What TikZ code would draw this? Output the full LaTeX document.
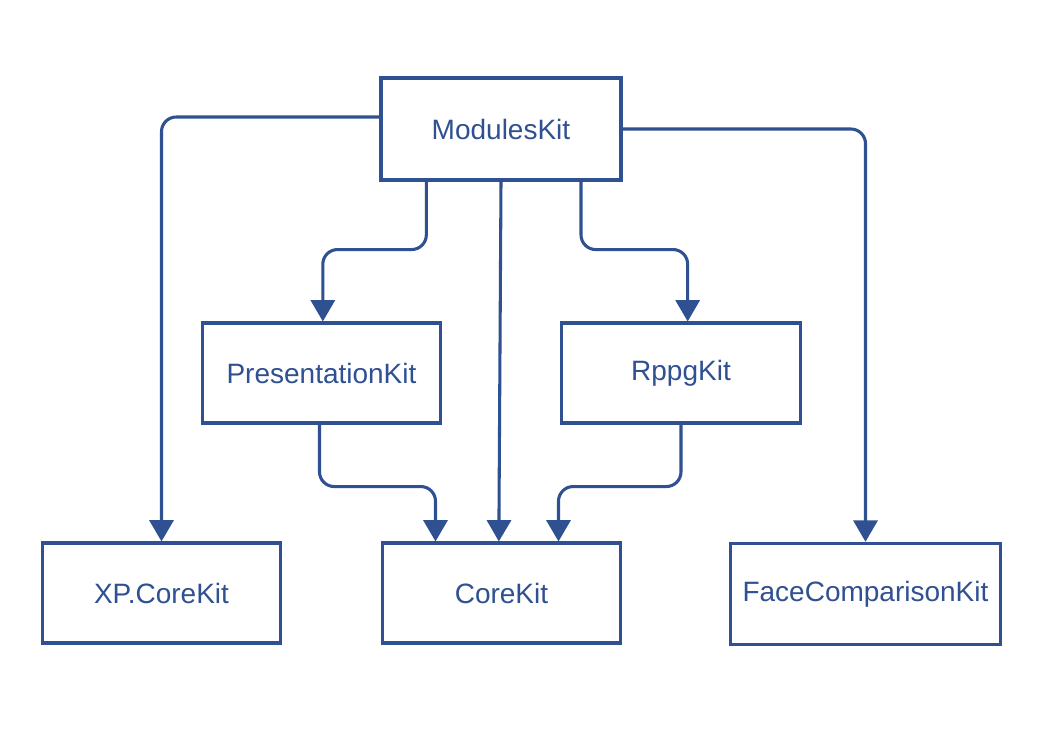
\documentclass[tikz,border=0pt]{standalone}
\usepackage{fontspec}
\setmainfont{Liberation Sans}
\usetikzlibrary{arrows.meta}
\definecolor{ink}{RGB}{47,80,145}
\newcommand{\lab}[1]{\lower2.5pt\hbox{#1}}
\begin{document}
\begin{tikzpicture}[x=0.75pt,y=-0.75pt,
  box/.style={draw=ink, line width=2.3pt, inner sep=0pt, text=ink,
    minimum width=179pt, minimum height=75pt,
    font=\fontsize{21}{24}\selectfont},
  link/.style={draw=ink, line width=2.3pt, rounded corners=11pt,
    -{Triangle[width=18pt,length=16pt]}}]
\useasboundingbox[fill=white] (0,0) rectangle (1040,740);
\node[box, minimum width=180pt, minimum height=76.5pt] (mk) at (501,129) {\lab{ModulesKit}};
\node[box] (pk) at (321.5,373) {\lab{PresentationKit}};
\node[box] (rk) at (681,373) {\lab{RppgKit}};
\node[box] (xp) at (161.5,593) {\lab{XP.CoreKit}};
\node[box, minimum width=178pt] (ck) at (501.5,593) {\lab{CoreKit}};
\node[box, minimum width=203pt, minimum height=76pt] (fc) at (865.5,594) {\lab{FaceComparisonKit}};
\draw[link] ([yshift=9pt]mk.west) -| (xp.north);
\draw[link] (mk.east) -| (fc.north);
\draw[link] ([xshift=-56pt]mk.south) -- ++(0,68) -| ([xshift=1pt]pk.north);
\draw[link] ([xshift=60pt]mk.south) -- ++(0,68) -| ([xshift=5pt]rk.north);
\draw[link] (mk.south) -- ([xshift=-2pt]ck.north);
\draw[link] ([xshift=-1.5pt]pk.south) -- ++(0,62) -| ([xshift=-49.5pt]ck.north);
\draw[link] (rk.south) -- ++(0,62) -| ([xshift=42.75pt]ck.north);
\end{tikzpicture}
\end{document}
